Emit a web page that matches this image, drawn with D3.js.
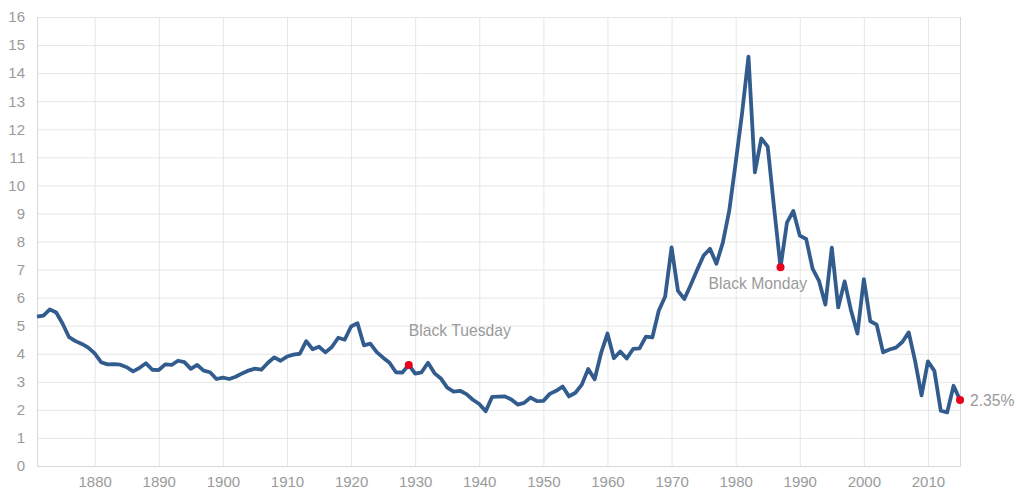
<!DOCTYPE html>
<html>
<head>
    <script src="https://d3js.org/d3.v7.min.js"></script>
    <style>
        body { margin: 0; background: #fff; }
        svg text { font-family: "Liberation Sans", Arial, sans-serif; }
    </style>
</head>
<body>
    <div id="chart"></div>

    <script>
        // 10 year treasury rate, one value per year, 1871 - 2015
        var years = d3.range(1871, 2016);
        var rates = [
            5.32, 5.36, 5.58, 5.47, 5.07, 4.59, 4.45, 4.35, 4.22,
            4.01, 3.70, 3.62, 3.63, 3.61, 3.52, 3.37, 3.50, 3.66, 3.43,
            3.42, 3.62, 3.60, 3.75, 3.70, 3.46, 3.60, 3.40, 3.34, 3.10,
            3.15, 3.10, 3.18, 3.30, 3.40, 3.47, 3.43, 3.67, 3.87, 3.75,
            3.90, 3.97, 4.00, 4.45, 4.16, 4.25, 4.05, 4.24, 4.57, 4.50,
            4.97, 5.09, 4.30, 4.36, 4.06, 3.86, 3.68, 3.34, 3.33, 3.60,
            3.29, 3.34, 3.68, 3.31, 3.12, 2.79, 2.65, 2.68, 2.56, 2.36,
            2.21, 1.95, 2.46, 2.47, 2.48, 2.37, 2.19, 2.25, 2.44, 2.31,
            2.32, 2.57, 2.68, 2.83, 2.48, 2.61, 2.90, 3.46, 3.09, 4.02,
            4.72, 3.84, 4.08, 3.83, 4.17, 4.19, 4.61, 4.58, 5.53, 6.04,
            7.79, 6.24, 5.95, 6.46, 6.99, 7.50, 7.74, 7.21, 7.96, 9.10,
            10.80, 12.57, 14.59, 10.46, 11.67, 11.38, 9.19, 7.08, 8.67, 9.09,
            8.21, 8.09, 7.03, 6.60, 5.75, 7.78, 5.65, 6.58, 5.54, 4.72,
            6.66, 5.16, 5.04, 4.05, 4.15, 4.22, 4.42, 4.76, 3.74, 2.52,
            3.73, 3.39, 1.97, 1.91, 2.86, 2.35
        ];

        // annotated points
        var noteYears = [1929, 1987, 2015];
        var noteLabels = ["Black Tuesday", "Black Monday", "2.35%"];

        var xTicks = d3.range(1880, 2011, 10);
        var yTicks = d3.range(0, 17, 1);

        var data = years.map(function(y, i) { return { year: y, rate: rates[i] }; });

        var width = 1016, height = 494;
        var margin = { top: 17, right: 56, bottom: 28, left: 37 };

        var svg = d3.select("#chart").append("svg")
            .attr("width", width)
            .attr("height", height);

        var x = d3.scaleLinear()
            .domain([1871, 2015])
            .range([margin.left, width - margin.right]);

        var y = d3.scaleLinear()
            .domain([0, 16])
            .range([height - margin.bottom, margin.top]);

        // horizontal grid + y labels
        var yAxis = svg.append("g")
            .attr("transform", "translate(" + margin.left + ",0)")
            .call(d3.axisLeft(y).tickValues(yTicks)
                .tickSize(-(width - margin.left - margin.right))
                .tickPadding(12));
        yAxis.select(".domain").remove();
        yAxis.selectAll("line").attr("stroke", "#e6e6e6");
        yAxis.selectAll("text").attr("fill", "#9a9a9a").style("font-size", "15px");

        // vertical grid + x labels
        var xAxis = svg.append("g")
            .attr("transform", "translate(0," + (height - margin.bottom) + ")")
            .call(d3.axisBottom(x).tickValues(xTicks).tickFormat(d3.format("d"))
                .tickSize(-(height - margin.top - margin.bottom))
                .tickPadding(10));
        xAxis.select(".domain").attr("stroke", "#d8d8d8");
        xAxis.selectAll("line").attr("stroke", "#e6e6e6");
        xAxis.selectAll("text").attr("fill", "#9a9a9a").style("font-size", "15px");

        var line = d3.line()
            .x(function(d) { return x(d.year); })
            .y(function(d) { return y(d.rate); });

        svg.append("path")
            .datum(data)
            .attr("fill", "none")
            .attr("stroke", "#335c8e")
            .attr("stroke-width", 3.8)
            .attr("stroke-linejoin", "round")
            .attr("d", line);

        var notes = noteYears.map(function(yr, i) {
            return { year: yr, rate: rates[yr - 1871], label: noteLabels[i] };
        });

        svg.selectAll(".dot")
            .data(notes)
            .enter().append("circle")
            .attr("class", "dot")
            .attr("cx", function(d) { return x(d.year); })
            .attr("cy", function(d) { return y(d.rate); })
            .attr("r", 4)
            .attr("fill", "#e8001c");

        // label offsets relative to the marked point
        var dx = [0, -72, 10];
        var dy = [-29, 22, 6];

        svg.selectAll(".note")
            .data(notes)
            .enter().append("text")
            .attr("class", "note")
            .attr("x", function(d, i) { return x(d.year) + dx[i]; })
            .attr("y", function(d, i) { return y(d.rate) + dy[i]; })
            .attr("fill", "#9a9a9a")
            .style("font-size", "15.7px")
            .text(function(d) { return d.label; });
    </script>
</body>
</html>
